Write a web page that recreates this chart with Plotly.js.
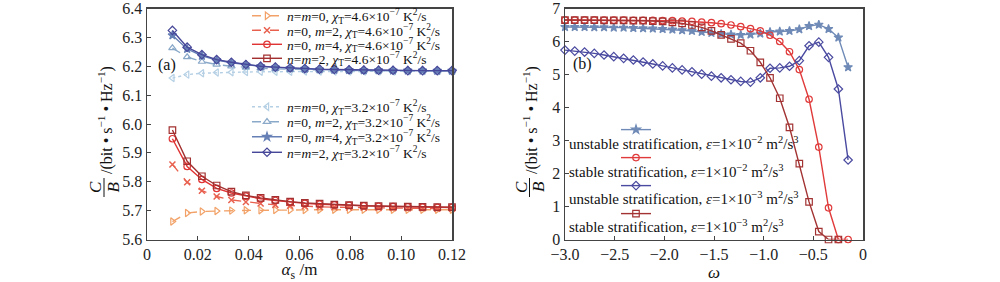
<!DOCTYPE html>
<html><head><meta charset="utf-8">
<script src="https://cdn.plot.ly/plotly-3.0.1.min.js"></script>
<style>html,body{margin:0;padding:0;background:#fff}#plot{width:1000px;height:282px}</style>
</head><body><div id="plot"></div>
<script>
// ---- Panel (a) data ----
const ALPHA = [0.0100,0.0158,0.0216,0.0274,0.0332,0.0389,0.0447,0.0505,0.0563,0.0621,0.0679,0.0737,0.0795,0.0853,0.0911,0.0968,0.1026,0.1084,0.1142,0.1200];
const A_NM0_46 = [5.662,5.692,5.697,5.699,5.700,5.701,5.701,5.702,5.702,5.702,5.703,5.703,5.703,5.703,5.703,5.703,5.703,5.703,5.703,5.703];
const A_N0M2_46 = [5.860,5.798,5.769,5.749,5.737,5.730,5.725,5.720,5.717,5.715,5.713,5.712,5.711,5.710,5.709,5.709,5.708,5.708,5.707,5.707];
const A_N0M4_46 = [5.949,5.853,5.808,5.777,5.761,5.750,5.741,5.735,5.729,5.725,5.722,5.720,5.718,5.716,5.715,5.714,5.713,5.712,5.711,5.711];
const A_NM2_46 = [5.979,5.871,5.819,5.787,5.766,5.753,5.744,5.737,5.731,5.727,5.724,5.721,5.719,5.717,5.716,5.715,5.714,5.713,5.712,5.712];
const A_NM0_32 = [6.159,6.171,6.176,6.178,6.179,6.180,6.181,6.181,6.181,6.182,6.182,6.182,6.182,6.182,6.182,6.182,6.183,6.183,6.183,6.183];
const A_N0M2_32 = [6.263,6.232,6.216,6.206,6.200,6.196,6.193,6.191,6.189,6.188,6.187,6.186,6.185,6.185,6.184,6.184,6.184,6.184,6.183,6.183];
const A_N0M4_32 = [6.307,6.260,6.236,6.221,6.212,6.205,6.200,6.196,6.193,6.191,6.189,6.188,6.187,6.186,6.186,6.185,6.185,6.185,6.184,6.184];
const A_NM2_32 = [6.324,6.266,6.240,6.223,6.214,6.206,6.200,6.197,6.194,6.192,6.190,6.189,6.188,6.187,6.186,6.186,6.185,6.185,6.185,6.185];
const A_NAMES = [
  '<i>n</i>=<i>m</i>=0, <i>χ</i><sub>T</sub>=4.6×10<sup>−7</sup> K<sup>2</sup>/s',
  '<i>n</i>=0, <i>m</i>=2, <i>χ</i><sub>T</sub>=4.6×10<sup>−7</sup> K<sup>2</sup>/s',
  '<i>n</i>=0, <i>m</i>=4, <i>χ</i><sub>T</sub>=4.6×10<sup>−7</sup> K<sup>2</sup>/s',
  '<i>n</i>=<i>m</i>=2, <i>χ</i><sub>T</sub>=4.6×10<sup>−7</sup> K<sup>2</sup>/s',
  '<i>n</i>=<i>m</i>=0, <i>χ</i><sub>T</sub>=3.2×10<sup>−7</sup> K<sup>2</sup>/s',
  '<i>n</i>=0, <i>m</i>=2, <i>χ</i><sub>T</sub>=3.2×10<sup>−7</sup> K<sup>2</sup>/s',
  '<i>n</i>=0, <i>m</i>=4, <i>χ</i><sub>T</sub>=3.2×10<sup>−7</sup> K<sup>2</sup>/s',
  '<i>n</i>=<i>m</i>=2, <i>χ</i><sub>T</sub>=3.2×10<sup>−7</sup> K<sup>2</sup>/s'
];
const A_XTICKS = [0,0.02,0.04,0.06,0.08,0.10,0.12];
const A_XTICKTEXT = ['0','0.02','0.04','0.06','0.08','0.10','0.12'];

// ---- Panel (b) data ----
const OMEGA = [-3.000,-2.902,-2.803,-2.705,-2.607,-2.509,-2.410,-2.312,-2.214,-2.116,-2.017,-1.919,-1.821,-1.722,-1.624,-1.526,-1.428,-1.329,-1.231,-1.133,-1.034,-0.936,-0.838,-0.740,-0.641,-0.543,-0.445,-0.347,-0.248,-0.150];
const B_UNSTABLE_E2 = [6.44,6.44,6.44,6.43,6.43,6.42,6.42,6.41,6.40,6.39,6.38,6.36,6.34,6.32,6.29,6.26,6.23,6.21,6.20,6.21,6.24,6.29,6.30,6.32,6.37,6.47,6.51,6.38,6.12,5.22];
const B_STABLE_E2 = [6.65,6.65,6.65,6.65,6.65,6.65,6.65,6.64,6.64,6.64,6.63,6.63,6.62,6.61,6.59,6.57,6.54,6.50,6.45,6.39,6.32,6.19,6.00,5.69,5.15,4.25,2.80,0.96,0,0];
const B_UNSTABLE_E3 = [5.74,5.71,5.68,5.64,5.59,5.54,5.49,5.44,5.38,5.32,5.26,5.20,5.14,5.08,5.01,4.95,4.90,4.84,4.79,4.77,4.90,5.19,5.20,5.25,5.42,5.87,5.98,5.52,4.56,2.41];
const B_STABLE_E3 = [6.65,6.65,6.65,6.65,6.64,6.64,6.64,6.63,6.63,6.62,6.61,6.58,6.55,6.50,6.43,6.32,6.20,6.08,5.95,5.72,5.37,4.90,4.28,3.40,2.30,1.14,0.24,0,0];
const B_NAMES = [
  'unstable stratification, <i>ε</i>=1×10<sup>−2</sup> m<sup>2</sup>/s<sup>3</sup>',
  'stable stratification, <i>ε</i>=1×10<sup>−2</sup> m<sup>2</sup>/s<sup>3</sup>',
  'unstable stratification, <i>ε</i>=1×10<sup>−3</sup> m<sup>2</sup>/s<sup>3</sup>',
  'stable stratification, <i>ε</i>=1×10<sup>−3</sup> m<sup>2</sup>/s<sup>3</sup>'
];
const B_XTICKS = [-3,-2.5,-2,-1.5,-1,-0.5,0];
const B_XTICKTEXT = ['−3.0','−2.5','−2.0','−1.5','−1.0','−0.5','0'];

const FONT = 'Liberation Serif, Times New Roman, serif';
const W = 1000, H = 282;
const px = v => v / W;
const py = v => 1 - v / H;

function tr(x, y, name, color, symbol, dash, legendId, xa, ya, msize) {
  return {
    type: 'scatter', mode: 'lines+markers', x: x, y: y, name: name,
    xaxis: xa, yaxis: ya, legend: legendId,
    line: {color: color, width: 1.4, dash: dash},
    marker: {symbol: symbol, size: msize, color: color, line: {color: color, width: 1.2}},
    cliponaxis: false
  };
}

const aStyles = [
  ['#f2a268', 'triangle-right-open', 'dash', A_NM0_46],
  ['#e8604e', 'x-thin-open', 'dash', A_N0M2_46],
  ['#e03434', 'circle-open', 'solid', A_N0M4_46],
  ['#a33030', 'square-open', 'solid', A_NM2_46],
  ['#b5d0e4', 'triangle-left-open', 'dot', A_NM0_32],
  ['#8aa9c9', 'triangle-up-open', 'dash', A_N0M2_32],
  ['#6680b6', 'star', 'solid', A_N0M4_32],
  ['#47479a', 'diamond-open', 'solid', A_NM2_32]
];
const aLegendY = [16, 30.5, 44.5, 58.5, 107, 122, 137, 152.5];

const traces = [];
const layoutLegends = {};
aStyles.forEach((s, i) => {
  const id = i === 0 ? 'legend' : 'legend' + (i + 1);
  const t = tr(ALPHA, s[3], A_NAMES[i], s[0], s[1], s[2], id, 'x', 'y', 6.5);
  if (s[1] === 'x-thin-open') { t.marker.line.width = 1.5; t.marker.size = 6; }
  traces.push(t);
  layoutLegends[id] = {
    x: px(247), xanchor: 'left', y: py(aLegendY[i]), yanchor: 'middle',
    bgcolor: 'rgba(0,0,0,0)', borderwidth: 0, itemwidth: 30,
    font: {family: FONT, size: 13.5, color: '#111'}
  };
});

const bStyles = [
  ['#6f8ab6', 'star', 'solid', B_UNSTABLE_E2],
  ['#e03a3a', 'circle-open', 'solid', B_STABLE_E2],
  ['#4a4aa0', 'diamond-open', 'solid', B_UNSTABLE_E3],
  ['#a33333', 'square-open', 'solid', B_STABLE_E3]
];
const bSymY = [130, 158, 186, 214];
const bTextY = [143, 170.5, 198, 226];
const annotations = [];
bStyles.forEach((s, i) => {
  const id = 'legend' + (9 + i);
  const n = s[3].length;
  traces.push(tr(OMEGA.slice(0, n), s[3], ' ', s[0], s[1], s[2], id, 'x2', 'y2', 6.5));
  layoutLegends[id] = {
    x: px(616), xanchor: 'left', y: py(bSymY[i]), yanchor: 'middle',
    bgcolor: 'rgba(0,0,0,0)', borderwidth: 0, itemwidth: 30,
    font: {family: FONT, size: 14, color: '#111'}
  };
  annotations.push({
    xref: 'paper', yref: 'paper', x: px(567), y: py(bTextY[i]), xanchor: 'left', yanchor: 'middle',
    text: B_NAMES[i], showarrow: false, font: {family: FONT, size: 15, color: '#111'}
  });
});

// panel labels
annotations.push({xref:'paper',yref:'paper',x:px(167),y:py(65),text:'(a)',showarrow:false,
  xanchor:'center',yanchor:'middle',font:{family:FONT,size:16,color:'#111'}});
annotations.push({xref:'paper',yref:'paper',x:px(582),y:py(64),text:'(b)',showarrow:false,
  xanchor:'center',yanchor:'middle',font:{family:FONT,size:16,color:'#111'}});

// y-axis titles as C/B fraction + rotated unit text
const shapes = [];
[[95, 104, 112.5, 106], [521, 529.5, 538, 531]].forEach(p => {
  annotations.push({xref:'paper',yref:'paper',x:px(p[0]),y:py(187),text:'<i>C</i>',showarrow:false,
    textangle:-90,xanchor:'center',yanchor:'middle',font:{family:FONT,size:17,color:'#111'}});
  annotations.push({xref:'paper',yref:'paper',x:px(p[2]),y:py(187),text:'<i>B</i>',showarrow:false,
    textangle:-90,xanchor:'center',yanchor:'middle',font:{family:FONT,size:17,color:'#111'}});
  shapes.push({type:'line',xref:'paper',yref:'paper',x0:px(p[1]),x1:px(p[1]),y0:py(178),y1:py(197),
    line:{color:'#111',width:1}});
  annotations.push({xref:'paper',yref:'paper',x:px(p[3]),y:py(120),text:'/(bit • s<sup>−1</sup> • Hz<sup>−1</sup>)',
    showarrow:false,textangle:-90,xanchor:'center',yanchor:'middle',font:{family:FONT,size:16,color:'#111'}});
});

const axisCommon = {
  showgrid: false, zeroline: false, showline: true, mirror: true,
  linecolor: '#444', linewidth: 1.5, ticks: 'inside', ticklen: 4, tickwidth: 1, tickcolor: '#444',
  tickfont: {family: FONT, size: 16, color: '#222'}, fixedrange: true
};

const layout = Object.assign({
  width: W, height: H, margin: {l: 0, r: 0, t: 0, b: 0},
  paper_bgcolor: '#fff', plot_bgcolor: '#fff', showlegend: true,
  xaxis: Object.assign({}, axisCommon, {domain: [px(147), px(452)], range: [0, 0.12], anchor: 'y',
    tickmode: 'array', tickvals: A_XTICKS, ticktext: A_XTICKTEXT,
    title: {text: '<i>α</i><sub>s</sub> /m', font: {family: FONT, size: 17, color: '#111'}, standoff: 6}}),
  yaxis: Object.assign({}, axisCommon, {domain: [1 - 239.5 / H, 1 - 8.5 / H], range: [5.6, 6.4], anchor: 'x',
    dtick: 0.1, tick0: 5.6, tickformat: '.1f'}),
  xaxis2: Object.assign({}, axisCommon, {domain: [px(565), px(863)], range: [-3, 0], anchor: 'y2',
    tickmode: 'array', tickvals: B_XTICKS, ticktext: B_XTICKTEXT,
    title: {text: '<i>ω</i>', font: {family: FONT, size: 17, color: '#111'}, standoff: 6}}),
  yaxis2: Object.assign({}, axisCommon, {domain: [1 - 239.5 / H, 1 - 8.5 / H], range: [0, 7], anchor: 'x2',
    dtick: 1, tick0: 0}),
  annotations: annotations, shapes: shapes, hovermode: false
}, layoutLegends);

Plotly.newPlot('plot', traces, layout, {staticPlot: true, displayModeBar: false});
</script></body></html>
